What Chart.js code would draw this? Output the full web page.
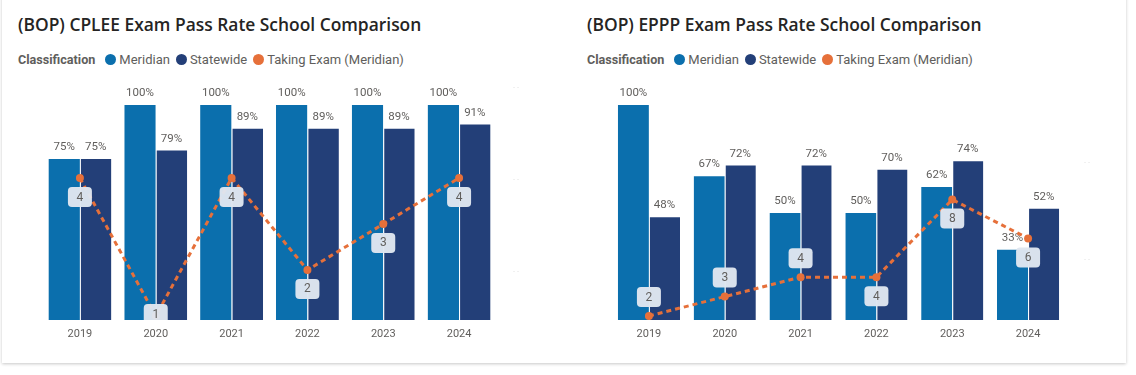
<!DOCTYPE html>
<html><head><meta charset="utf-8">
<script src="https://cdn.jsdelivr.net/npm/chart.js@4.4.1/dist/chart.umd.min.js"></script>
<style>
html,body{margin:0;padding:0;background:#fff}
body{width:1136px;height:375px;overflow:hidden;position:relative;font-family:Roboto,sans-serif}
#card{position:absolute;left:2px;top:-10px;width:1124px;height:373px;background:#fff;box-shadow:0 1px 3px rgba(0,0,0,0.22)}
.panel{position:absolute;top:0;width:560px;height:375px}
.panel canvas{position:absolute;left:0;top:0}
.title{position:absolute;left:18px;top:12px;font-family:'Open Sans',sans-serif;font-weight:600;font-size:17.4px;color:#252423;white-space:nowrap}
.legend{position:absolute;left:18px;top:52px;display:flex;align-items:center;font-size:13px;color:#605e5c;white-space:nowrap}
.legend b{font-weight:700;font-size:12.6px;margin-right:10px}
.legend .it{display:flex;align-items:center;margin-right:6px}
.legend .dot{width:11px;height:11px;border-radius:50%;margin-right:3px}
</style></head>
<body>
<div id="card"></div>
<div class="panel" id="p1" style="left:0"><div class="title" id="t1"></div><div class="legend" id="l1"></div><canvas id="c1" width="560" height="375"></canvas></div>
<div class="panel" id="p2" style="left:569px"><div class="title" id="t2"></div><div class="legend" id="l2"></div><canvas id="c2" width="560" height="375"></canvas></div>
<script>
// ---- data ----
const years = ['2019','2020','2021','2022','2023','2024'];
const seriesNames = ['Meridian','Statewide','Taking Exam (Meridian)'];
const legendTitle = 'Classification';

const cpleeTitle = '(BOP) CPLEE Exam Pass Rate School Comparison';
const cpleeMeridian = [75, 100, 100, 100, 100, 100];
const cpleeStatewide = [75, 79, 89, 89, 89, 91];
const cpleeTaking = [4, 1, 4, 2, 3, 4];

const epppTitle = '(BOP) EPPP Exam Pass Rate School Comparison';
const epppMeridian = [100, 67, 50, 50, 62, 33];
const epppStatewide = [48, 72, 72, 70, 74, 52];
const epppTaking = [2, 3, 4, 4, 8, 6];

// ---- style ----
const colMeridian = '#0b6fad';
const colState = '#233f78';
const colOrange = '#e6703a';
const labelColor = '#605e5c';

const valuePlugin = {
  id: 'vals',
  afterDatasetDraw(chart, args) {
    const ds = chart.data.datasets[args.index];
    if (ds.type === 'line') return;
    const ctx = chart.ctx;
    ctx.save();
    ctx.font = '11.5px Roboto';
    ctx.fillStyle = labelColor;
    ctx.textAlign = 'center';
    ctx.textBaseline = 'bottom';
    args.meta.data.forEach((el, j) => {
      ctx.fillText(ds.data[j] + '%', el.x, el.y - 5);
    });
    ctx.restore();
  },
  afterDatasetsDraw(chart, args, opts) {
    const ctx = chart.ctx;
    const area = chart.chartArea;
    chart.data.datasets.forEach((ds, i) => {
      if (ds.type !== 'line') return;
      const meta = chart.getDatasetMeta(i);
      ctx.save();
      ctx.beginPath();
      ctx.rect(area.left, area.top, area.right - area.left, area.bottom - area.top);
      ctx.clip();
      meta.data.forEach((el, j) => {
        const dir = (opts.sides && opts.sides[j] === 'above') ? -1 : 1;
        let cy = el.y + dir * 19;
        cy = Math.min(cy, area.bottom - 6);
        const w = 24, h = 20, r = 4;
        const x0 = el.x - w / 2, y0 = cy - h / 2;
        ctx.fillStyle = 'rgba(223,230,240,0.97)';
        ctx.beginPath();
        ctx.roundRect(x0, y0, w, h, r);
        ctx.fill();
        ctx.fillStyle = labelColor;
        ctx.font = '12px Roboto';
        ctx.textAlign = 'center';
        ctx.textBaseline = 'middle';
        ctx.fillText(String(ds.data[j]), el.x, cy + 0.5);
      });
      ctx.restore();
    });
  }
};

function buildLegend(id) {
  const el = document.getElementById(id);
  const cols = [colMeridian, colState, colOrange];
  let html = '<b>' + legendTitle + '</b>';
  seriesNames.forEach((n, i) => {
    html += '<span class="it"><span class="dot" style="background:' + cols[i] + '"></span>' + n + '</span>';
  });
  el.innerHTML = html;
}

function makeChart(canvasId, meridian, statewide, taking, y2min, y2max, y2ticks, padLeft, tickPad, catPct, sides) {
  return new Chart(document.getElementById(canvasId), {
    data: {
      labels: years,
      datasets: [
        { type: 'line', label: seriesNames[2], data: taking, yAxisID: 'y2', order: 0,
          borderColor: colOrange, backgroundColor: colOrange, borderWidth: 3, borderDash: [5, 4],
          pointRadius: 4, pointHoverRadius: 4, pointBackgroundColor: colOrange, pointBorderWidth: 0, tension: 0 },
        { type: 'bar', label: seriesNames[0], data: meridian, yAxisID: 'y', order: 1,
          backgroundColor: colMeridian, borderColor: 'rgba(255,255,255,0.3)',
          borderWidth: { top: 1, left: 0, right: 0, bottom: 0 }, borderSkipped: false,
          categoryPercentage: catPct, barPercentage: 1.0 },
        { type: 'bar', label: seriesNames[1], data: statewide, yAxisID: 'y', order: 1,
          backgroundColor: colState, borderColor: 'rgba(255,255,255,0.3)',
          borderWidth: { top: 1, left: 1, right: 0, bottom: 0 }, borderSkipped: false,
          categoryPercentage: catPct, barPercentage: 1.0 }
      ]
    },
    options: {
      responsive: false, animation: false,
      layout: { padding: { left: padLeft, top: 82, right: 0, bottom: 0 } },
      plugins: { legend: { display: false }, tooltip: { enabled: false }, vals: { sides: sides } },
      scales: {
        x: { grid: { display: false, drawTicks: false }, border: { display: false },
             ticks: { padding: 8, color: labelColor, font: { family: 'Roboto', size: 11 } },
             afterFit(s) { s.height = 55; } },
        y: { display: false, min: 0, max: 110.2 },
        y2: { position: 'right', min: y2min, max: y2max, grid: { display: false, drawTicks: false }, border: { display: false },
              afterBuildTicks(s) { s.ticks = y2ticks.map(v => ({ value: v })); },
              ticks: { padding: tickPad, color: '#d4d4d4', font: { family: 'Roboto', size: 8 }, callback: () => '. .' },
              afterFit(s) { s.width = 560 - padLeft - 455; } }
      }
    },
    plugins: [valuePlugin]
  });
}

document.getElementById('t1').textContent = cpleeTitle;
document.getElementById('t2').textContent = epppTitle;
buildLegend('l1');
buildLegend('l2');

makeChart('c1', cpleeMeridian, cpleeStatewide, cpleeTaking, 0.913, 6.087, [2, 4, 6], 42, 16, 0.83,
  ['below', 'below', 'below', 'below', 'below', 'below']);
makeChart('c2', epppMeridian, epppStatewide, epppTaking, 1.794, 14.06, [5, 10], 42, 18, 0.82,
  ['above', 'above', 'above', 'below', 'below', 'below']);
</script>
</body></html>
